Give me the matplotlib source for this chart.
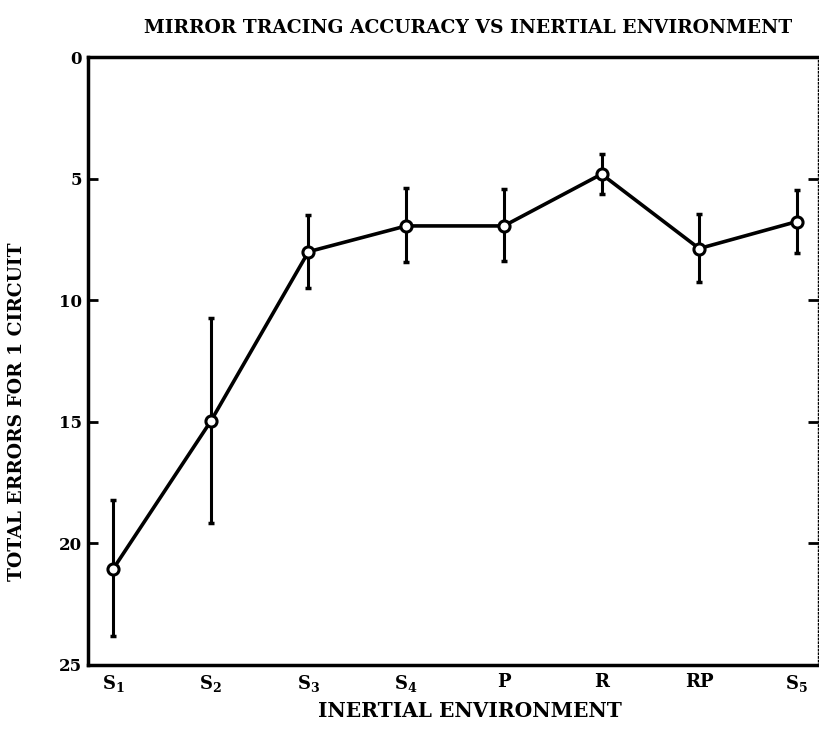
import matplotlib.pyplot as plt
import numpy as np

# data
environments = ['S$_1$', 'S$_2$', 'S$_3$', 'S$_4$', 'P', 'R', 'RP', 'S$_5$']
errors = [21.05, 14.97, 8.0, 6.94, 6.94, 4.81, 7.87, 6.76]
err_top = [18.2, 10.74, 6.5, 5.4, 5.44, 3.97, 6.43, 5.47]
err_bottom = [23.8, 19.16, 9.49, 8.43, 8.38, 5.63, 9.24, 8.06]
yticks = [0, 5, 10, 15, 20, 25]

plt.rcParams['font.family'] = ['DejaVu Serif']
plt.rcParams['mathtext.fontset'] = 'custom'
plt.rcParams['mathtext.rm'] = 'DejaVu Serif:bold'
plt.rcParams['mathtext.it'] = 'DejaVu Serif:bold'

fig = plt.figure(figsize=(8.2, 7.43), dpi=100)
ax = fig.add_axes([0.107, 0.105, 0.891, 0.818])

x = np.arange(len(environments))
y = np.array(errors)
lo = y - np.array(err_top)
hi = np.array(err_bottom) - y

ax.errorbar(x, y, yerr=[lo, hi], fmt='none', ecolor='black',
            elinewidth=2.2, capsize=2, capthick=2.5, zorder=2)
ax.plot(x, y, color='black', lw=2.6, marker='o', markersize=8,
        markerfacecolor='white', markeredgecolor='black',
        markeredgewidth=2.2, zorder=3)

ax.set_xlim(-0.26, 7.22)
ax.set_ylim(25, 0)
ax.set_yticks(yticks)
ax.set_yticklabels([str(t) for t in yticks], fontweight='bold', fontsize=12)
ax.set_xticks(x)
ax.set_xticklabels(environments, fontweight='bold', fontsize=13)
ax.tick_params(axis='y', direction='in', length=7, width=2, pad=4)
ax.tick_params(axis='x', length=0, pad=6)
ax.tick_params(axis='y', right=True, labelright=False)

for side in ['left', 'bottom', 'top']:
    ax.spines[side].set_linewidth(2.5)
ax.spines['right'].set_linewidth(1.0)
ax.spines['right'].set_linestyle(':')

ax.set_xlabel('INERTIAL ENVIRONMENT', fontweight='bold', fontsize=14.5)
ax.xaxis.set_label_coords(0.523, -0.06)
ax.set_ylabel('TOTAL ERRORS FOR 1 CIRCUIT', fontweight='bold', fontsize=13.5)
ax.yaxis.set_label_coords(-0.084, 0.416)
fig.text(0.571, 0.962, 'MIRROR TRACING ACCURACY VS INERTIAL ENVIRONMENT',
         ha='center', va='center', fontweight='bold', fontsize=13.5)

fig.savefig('out.png', dpi=100)
